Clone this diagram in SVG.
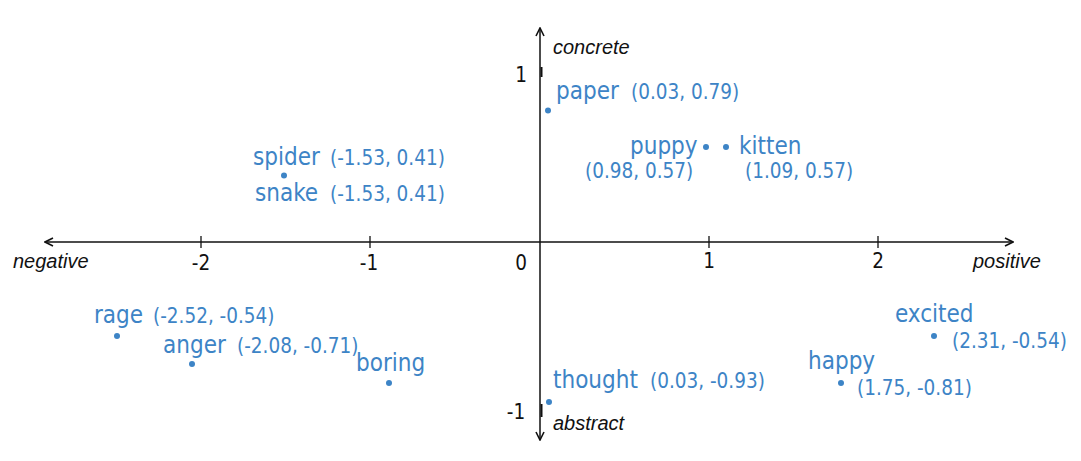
<svg xmlns="http://www.w3.org/2000/svg" width="1081" height="461" viewBox="0 0 1081 461">
<style>
.lbl{font-family:"DejaVu Sans Condensed","DejaVu Sans",sans-serif;font-stretch:condensed;font-size:24px;fill:#3d84c6}
.crd{font-family:"DejaVu Sans Condensed","DejaVu Sans",sans-serif;font-stretch:condensed;font-size:20.5px;fill:#3d84c6}
.dot{fill:#3d84c6}
.tick{font-family:"DejaVu Sans Condensed","DejaVu Sans",sans-serif;font-stretch:condensed;font-size:20.5px;fill:#111;text-anchor:middle}
.ax{font-family:"Liberation Sans",Arial,sans-serif;font-style:italic;font-size:20px;fill:#111}
.axis{stroke:#111;stroke-width:1.5;fill:none}
</style>
<defs>
<marker id="arr" viewBox="0 0 10 10" refX="9" refY="5" markerWidth="10" markerHeight="10" markerUnits="userSpaceOnUse" orient="auto">
<path d="M1,1 L9,5 L1,9" fill="none" stroke="#111" stroke-width="1.6"/>
</marker>
</defs>
<rect width="1081" height="461" fill="#fff"/>
<g id="connectors">
<line class="axis" x1="540" y1="242" x2="1013" y2="242" marker-end="url(#arr)"/>
<line class="axis" x1="540" y1="242" x2="45" y2="242" marker-end="url(#arr)"/>
<line class="axis" x1="540" y1="242" x2="540" y2="28" marker-end="url(#arr)"/>
<line class="axis" x1="540" y1="242" x2="540" y2="440" marker-end="url(#arr)"/>
<g stroke="#111" stroke-width="1.3">
<line x1="201" y1="236" x2="201" y2="248"/>
<line x1="370" y1="236" x2="370" y2="248"/>
<line x1="709" y1="236" x2="709" y2="248"/>
<line x1="878" y1="236" x2="878" y2="248"/>
</g>
<g stroke="#111" stroke-width="2">
<line x1="541.5" y1="67" x2="541.5" y2="77"/>
<line x1="541.5" y1="404" x2="541.5" y2="417"/>
</g>
</g>
<g id="axis-labels">
<text class="tick" x="201" y="270">-2</text>
<text class="tick" x="369" y="270">-1</text>
<text class="tick" x="521" y="270">0</text>
<text class="tick" x="709" y="268">1</text>
<text class="tick" x="878" y="268">2</text>
<text class="tick" x="521" y="82">1</text>
<text class="tick" x="516" y="419">-1</text>
<text class="ax" x="13" y="268">negative</text>
<text class="ax" x="973" y="268">positive</text>
<text class="ax" x="553" y="54">concrete</text>
<text class="ax" x="553" y="430">abstract</text>
</g>
<g id="paper">
<circle class="dot" cx="548" cy="110.5" r="3"/>
<text class="lbl" x="556" y="99">paper</text>
<text class="crd" x="631" y="99">(0.03, 0.79)</text>
</g>
<g id="puppy">
<circle class="dot" cx="706" cy="147" r="3"/>
<text class="lbl" x="630" y="154">puppy</text>
<text class="crd" x="585" y="178">(0.98, 0.57)</text>
</g>
<g id="kitten">
<circle class="dot" cx="726" cy="147" r="3"/>
<text class="lbl" x="739" y="154">kitten</text>
<text class="crd" x="745" y="178">(1.09, 0.57)</text>
</g>
<g id="spider">
<circle class="dot" cx="284" cy="175.5" r="3"/>
<text class="lbl" x="253" y="165">spider</text>
<text class="crd" x="330" y="165">(-1.53, 0.41)</text>
</g>
<g id="snake">
<text class="lbl" x="255" y="201">snake</text>
<text class="crd" x="330" y="201">(-1.53, 0.41)</text>
</g>
<g id="rage">
<circle class="dot" cx="117" cy="336" r="3"/>
<text class="lbl" x="94" y="323">rage</text>
<text class="crd" x="153" y="323">(-2.52, -0.54)</text>
</g>
<g id="anger">
<circle class="dot" cx="192" cy="364" r="3"/>
<text class="lbl" x="163" y="353">anger</text>
<text class="crd" x="237" y="353">(-2.08, -0.71)</text>
</g>
<g id="boring">
<circle class="dot" cx="389" cy="383" r="3"/>
<text class="lbl" x="356" y="371">boring</text>
</g>
<g id="thought">
<circle class="dot" cx="549" cy="402" r="3"/>
<text class="lbl" x="553" y="388">thought</text>
<text class="crd" x="650" y="388">(0.03, -0.93)</text>
</g>
<g id="happy">
<circle class="dot" cx="841" cy="383" r="3"/>
<text class="lbl" x="808" y="369">happy</text>
<text class="crd" x="857" y="395">(1.75, -0.81)</text>
</g>
<g id="excited">
<circle class="dot" cx="934" cy="336" r="3"/>
<text class="lbl" x="895" y="322">excited</text>
<text class="crd" x="952" y="348">(2.31, -0.54)</text>
</g>
</svg>
